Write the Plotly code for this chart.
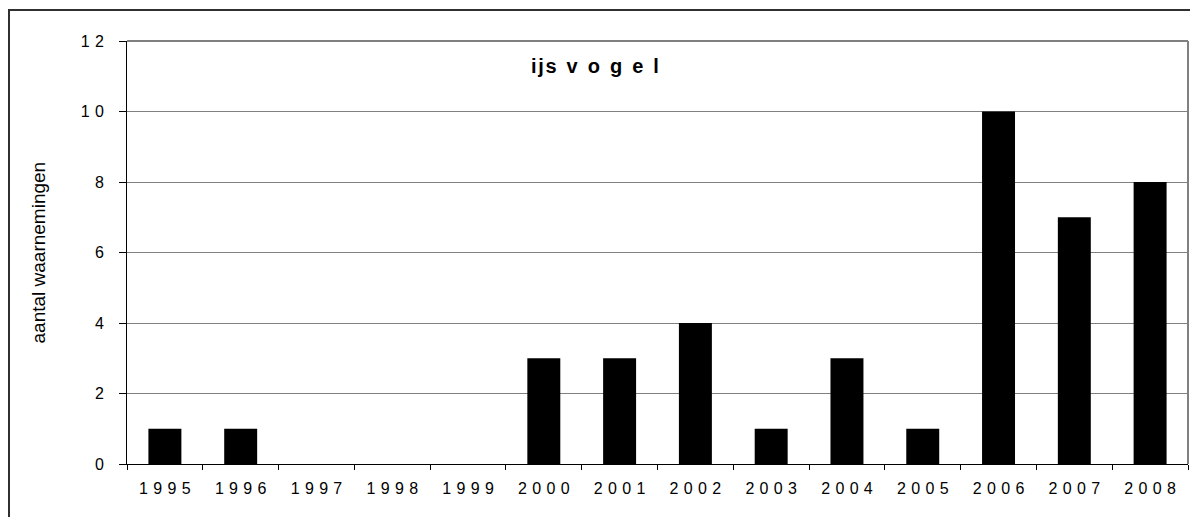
import plotly.graph_objects as go

years = ["1995", "1996", "1997", "1998", "1999", "2000", "2001",
         "2002", "2003", "2004", "2005", "2006", "2007", "2008"]
counts = [1, 1, 0, 0, 0, 3, 3, 4, 1, 3, 1, 10, 7, 8]
y_ticks = [0, 2, 4, 6, 8, 10, 12]
title_text = "ijsvogel"
y_title = "aantal waarnemingen"

SP = "\u2004"


def spaced(s, sep=SP):
    return sep.join(list(s))


FONT = "Liberation Sans, Arial, sans-serif"

# page body has an 8px margin; figure sized to fit the window
W, H = 1190, 509
L, R, T, B = 119, 10, 33, 53
PW, PH = W - L - R, H - T - B

fig = go.Figure(
    go.Bar(x=years, y=counts, marker=dict(color="#000000", line=dict(width=0)))
)

fig.update_layout(
    width=W, height=H,
    margin=dict(l=L, r=R, t=T, b=B),
    paper_bgcolor="white", plot_bgcolor="white",
    bargap=0.565,
    showlegend=False,
    font=dict(family=FONT, color="#000000", size=16),
)

fig.update_xaxes(
    type="category",
    tickmode="array", tickvals=years, ticktext=[spaced(y) for y in years],
    tickson="boundaries", ticks="outside", ticklen=5, tickcolor="#000000",
    showline=True, linecolor="#000000", linewidth=1,
    showgrid=False, ticklabelstandoff=10,
    tickfont=dict(size=16, family=FONT, color="#000000"),
)
fig.update_yaxes(
    range=[0, 12],
    tickmode="array", tickvals=y_ticks, ticktext=[spaced(str(v)) for v in y_ticks],
    ticks="outside", ticklen=7, tickcolor="#000000",
    showline=True, linecolor="#000000", linewidth=1,
    showgrid=True, gridcolor="#808080", gridwidth=1,
    zeroline=False, ticklabelstandoff=12,
    tickfont=dict(size=16, family=FONT, color="#000000"),
)

# gray top and right plot-area borders
fig.add_shape(type="line", xref="paper", yref="paper", x0=0, x1=1, y0=1, y1=1,
              line=dict(color="#808080", width=2), layer="below")
fig.add_shape(type="line", xref="paper", yref="paper", x0=1, x1=1, y0=0, y1=1,
              line=dict(color="#808080", width=2), layer="below")

# outer chart border (continues beyond the right and bottom edges)
fig.add_shape(type="rect", xref="paper", yref="paper",
              x0=(1 - L) / PW, x1=1.05, y0=-0.3, y1=(T + PH - 2) / PH,
              line=dict(color="#303030", width=2), layer="above")

fig.add_annotation(
    text="<b>" + "i\u200aj\u200as" + "\u2002" + "\u2002".join(list("vogel")) + "</b>",
    xref="paper", yref="paper",
    x=(587 - L) / PW, y=(T + PH - 58) / PH,
    xanchor="center", yanchor="middle", showarrow=False,
    font=dict(size=20, family=FONT, color="#000000"),
)
fig.add_annotation(
    text=y_title, textangle=-90,
    xref="paper", yref="paper",
    x=(30 - L) / PW, y=0.5,
    xanchor="center", yanchor="middle", showarrow=False,
    font=dict(size=19, family=FONT, color="#000000"),
)

fig.write_html("out.html")
